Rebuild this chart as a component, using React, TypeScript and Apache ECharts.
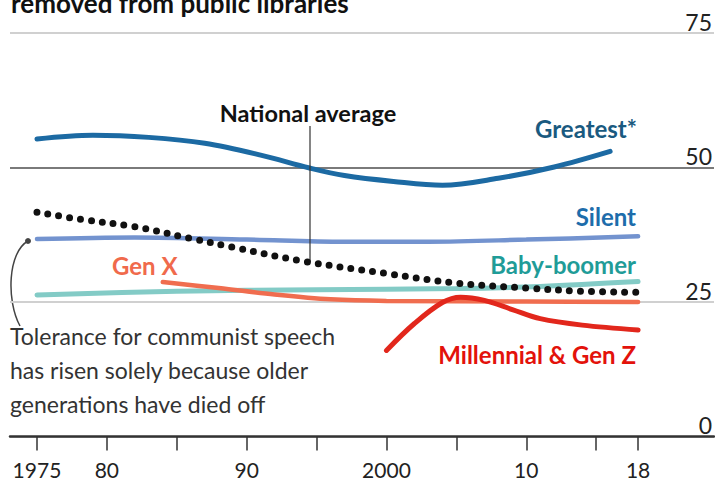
import React, { useEffect, useRef } from "react";
import * as echarts from "echarts";

// ---- data ----
const greatestYears = [1975, 1979, 1983, 1987, 1991, 1994.5, 1997, 2000.5, 2004, 2008, 2012, 2016];
const greatestVals = [55.3, 56.0, 55.6, 54.5, 52.3, 49.9, 48.5, 47.4, 46.7, 48.0, 50.1, 53.0];

const silentYears = [1975, 1982, 1990, 1997, 2003, 2010, 2018];
const silentVals = [36.7, 37.0, 36.6, 36.2, 36.2, 36.6, 37.2];

const boomerYears = [1975, 1985, 1995, 2005, 2011, 2018];
const boomerVals = [26.3, 27.0, 27.3, 27.5, 27.9, 28.8];

const genXYears = [1984, 1988, 1992, 1996, 2000, 2010, 2018];
const genXVals = [28.7, 27.6, 26.4, 25.5, 25.2, 25.1, 25.0];

const millYears = [2000, 2002, 2004, 2005.3, 2007, 2009, 2011, 2014, 2018];
const millVals = [16.0, 21.0, 24.9, 25.9, 25.3, 23.6, 21.9, 20.7, 19.8];

const nationalYears = [1975, 1978, 1982, 1986, 1989, 1994, 2000, 2005, 2010, 2014, 2018];
const nationalVals = [41.7, 40.4, 39.0, 36.8, 35.2, 32.6, 30.3, 28.5, 27.6, 27.0, 26.8];

const xTickValues = [1975, 1980, 1985, 1990, 1995, 2000, 2005, 2010, 2015, 2018];
const xLabelValues = [1975, 1980, 1990, 2000, 2010, 2018];
const xLabelTexts: Record<number, string> = {
  1975: "1975",
  1980: "80",
  1990: "90",
  2000: "2000",
  2010: "10",
  2018: "18",
};
const yTicks = [0, 25, 50, 75];

const FONT = "Lato, 'Noto Sans', sans-serif";

const pairs = (xs: number[], ys: number[]) => xs.map((x, i) => [x, ys[i]]);

export default function App() {
  const ref = useRef<HTMLDivElement>(null);
  useEffect(() => {
    if (!ref.current) return;
    const chart = echarts.init(ref.current, null, { renderer: "svg" });
    const lineSeries = (name: string, data: number[][], color: string, width: number, z = 2) => ({
      name,
      type: "line",
      data,
      smooth: 0.35,
      showSymbol: false,
      symbol: "none",
      z,
      lineStyle: { color, width, cap: "round" },
    });
    const label = (text: string, x: number, y: number, fill: string, align = "right") => ({
      type: "text",
      x,
      y,
      style: { text, font: `bold 24px ${FONT}`, fill, align, verticalAlign: "middle" },
    });
    chart.setOption({
      animation: false,
      backgroundColor: "#ffffff",
      grid: { left: 10, right: 0, top: 33, bottom: 46.5, containLabel: false },
      xAxis: {
        type: "value",
        min: 1973.07,
        max: 2023.43,
        splitLine: { show: false },
        axisLine: { show: true, onZero: false, lineStyle: { color: "#333", width: 2.5 } },
        axisTick: {
          show: true,
          customValues: xTickValues,
          length: 14,
          lineStyle: { color: "#333", width: 1.5 },
        },
        axisLabel: {
          show: true,
          customValues: xLabelValues,
          formatter: (v: number) => xLabelTexts[v] ?? "",
          fontFamily: FONT,
          fontSize: 21,
          color: "#222",
          margin: 22,
          hideOverlap: false,
          showMinLabel: true,
          showMaxLabel: true,
        },
      },
      yAxis: {
        type: "value",
        position: "right",
        min: 0,
        max: 75,
        interval: 25,
        axisLine: { show: false },
        axisTick: { show: false },
        axisLabel: {
          inside: true,
          margin: 2,
          verticalAlign: "bottom",
          fontFamily: FONT,
          fontSize: 23,
          color: "#222",
          formatter: (v: number) => (yTicks.includes(v) ? String(v) : ""),
        },
        splitLine: {
          show: true,
          lineStyle: { color: ["#d0d0d0", "#d0d0d0", "#7a7a7a", "#d0d0d0"], width: 2 },
        },
      },
      series: [
        lineSeries("Baby-boomer", pairs(boomerYears, boomerVals), "#83cbc6", 5),
        lineSeries("Gen X", pairs(genXYears, genXVals), "#f06d4f", 4.5),
        lineSeries("Silent", pairs(silentYears, silentVals), "#7393cf", 4.5),
        lineSeries("Millennial & Gen Z", pairs(millYears, millVals), "#e2271c", 5),
        lineSeries("Greatest", pairs(greatestYears, greatestVals), "#1c6aa3", 5),
        {
          name: "National average",
          type: "line",
          data: pairs(nationalYears, nationalVals),
          smooth: 0.35,
          showSymbol: false,
          symbol: "none",
          z: 5,
          lineStyle: { color: "#111", width: 7, type: [0, 11], cap: "round" },
        },
      ],
      graphic: [
        {
          type: "text",
          left: 11,
          top: -10,
          style: { text: "removed from public libraries", font: `bold 26px ${FONT}`, fill: "#111" },
        },
        {
          type: "line",
          shape: { x1: 310, y1: 126, x2: 310, y2: 262 },
          style: { stroke: "#333", lineWidth: 1.2 },
          z: 4,
        },
        {
          type: "text",
          x: 308,
          y: 113,
          style: {
            text: "National average",
            font: `bold 23.5px ${FONT}`,
            fill: "#111",
            align: "center",
            verticalAlign: "middle",
          },
        },
        label("Greatest*", 637, 128, "#1a5a80"),
        label("Silent", 636, 216, "#1d6dab"),
        label("Baby-boomer", 636, 264, "#1f9c98"),
        label("Gen X", 112, 265, "#f06a4c", "left"),
        label("Millennial & Gen Z", 636, 354, "#e3120b"),
        {
          type: "text",
          x: 10,
          y: 319,
          style: {
            text: "Tolerance for communist speech\nhas risen solely because older\ngenerations have died off",
            font: `23px ${FONT}`,
            lineHeight: 34,
            fill: "#333",
            align: "left",
            verticalAlign: "top",
          },
        },
        {
          type: "bezierCurve",
          shape: { x1: 28, y1: 241, cpx1: 8, cpy1: 252, cpx2: 6, cpy2: 300, x2: 20, y2: 326 },
          style: { stroke: "#444", lineWidth: 1.5, fill: "none" },
        },
        {
          type: "circle",
          shape: { cx: 28, cy: 241, r: 3 },
          style: { fill: "#444" },
        },
      ],
    });
    return () => chart.dispose();
  }, []);
  return (
    <div
      ref={ref}
      style={{ position: "fixed", left: 0, top: 0, width: 715, height: 483, background: "#fff" }}
    />
  );
}
